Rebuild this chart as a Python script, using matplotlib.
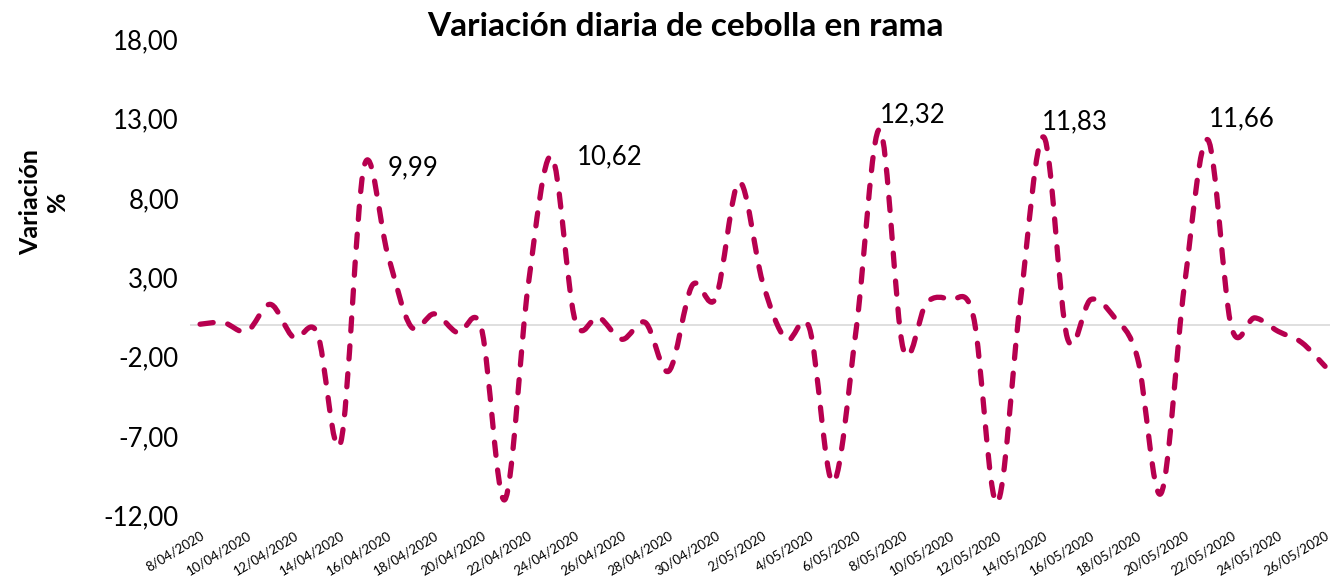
import numpy as np
import pandas as pd
import matplotlib
matplotlib.use('Agg')
import matplotlib.pyplot as plt
from matplotlib.path import Path
from matplotlib.patches import PathPatch
from matplotlib.ticker import FuncFormatter, FixedLocator

# Datos: variación diaria (%) del 8/04/2020 al 26/05/2020
fechas = pd.date_range('2020-04-08', '2020-05-26', freq='D')
etiquetas_x = [f"{d.day}/{d.month:02d}/{d.year}" for d in fechas]
variacion = [0.05, 0.15, -0.4, 1.3, -0.8, -0.5, -7.4, 9.99, 4.5, -0.1,
             0.7, -0.5, -0.2, -11.0, 2.5, 10.62, 0.3, 0.5, -0.9, 0.15,
             -2.9, 2.5, 1.7, 9.0, 2.7, -0.9, -0.2, -9.9, -0.2, 12.32,
             -1.5, 1.4, 1.6, 0.5, -11.2, 1.5, 11.83, -0.8, 1.6, 0.5,
             -2.1, -10.6, 2.5, 11.66, -0.1, 0.45, -0.4, -1.1, -2.6]
picos = [7, 15, 29, 36, 43]
ticks_y = [-12, -7, -2, 3, 8, 13, 18]

# desplazamiento de las etiquetas de los picos (puntos)
desfase = [(17, -1.3), (18, -0.4), (0, 10.3), (-1.5, 11), (0.4, 14.8)]

color_linea = '#B7004F'
plt.rcParams['font.family'] = ['Lato', 'DejaVu Sans']

fig = plt.figure(figsize=(13.3, 5.83), dpi=100)
ax = fig.add_axes([190 / 1330, 0.1156, 1140 / 1330, 0.8173])

x = np.arange(len(variacion))
y = np.array(variacion)
n = len(x)

# curva suavizada (bezier) como la de Excel
verts = [(x[0], y[0])]
codes = [Path.MOVETO]
for i in range(n - 1):
    p0 = np.array([x[max(i - 1, 0)], y[max(i - 1, 0)]])
    p1 = np.array([x[i], y[i]])
    p2 = np.array([x[i + 1], y[i + 1]])
    p3 = np.array([x[min(i + 2, n - 1)], y[min(i + 2, n - 1)]])
    c1 = p1 + (p2 - p0) / 6
    c2 = p2 - (p3 - p1) / 6
    verts += [tuple(c1), tuple(c2), tuple(p2)]
    codes += [Path.CURVE4] * 3

ax.axhline(0, color='#D9D9D9', lw=1.2, zorder=1)
curva = PathPatch(Path(verts, codes), fill=False, edgecolor=color_linea,
                  lw=3.8, linestyle=(0, (2.5, 2.8)), capstyle='round',
                  joinstyle='round', zorder=3)
ax.add_patch(curva)

for k, (dx, dy) in zip(picos, desfase):
    ax.annotate(f"{variacion[k]:.2f}".replace('.', ','), (x[k], y[k]),
                xytext=(dx, dy), textcoords='offset points',
                ha='left', va='center', fontsize=18.5, color='black')

ax.set_xlim(-0.43, 48.21)
ax.set_ylim(-12, 18)
ax.yaxis.set_major_locator(FixedLocator(ticks_y))
ax.yaxis.set_major_formatter(FuncFormatter(lambda v, p: f"{v:.2f}".replace('.', ',')))
ax.set_xticks(x[::2])
ax.set_xticklabels(etiquetas_x[::2], rotation=31, ha='right', va='top',
                   rotation_mode='anchor', fontsize=9.5)
ax.tick_params(axis='y', length=0, labelsize=18.5, pad=8)
ax.tick_params(axis='x', length=0, pad=10)
for s in ax.spines.values():
    s.set_visible(False)

fig.text(685 / 1330, 1 - 26 / 583, 'Variación diaria de cebolla en rama',
         ha='center', va='center', fontsize=24, fontweight='bold')
fig.text(44 / 1330, 1 - 202 / 583, 'Variación\n%', rotation=90,
         ha='center', va='center', multialignment='center',
         fontsize=18, fontweight='bold')

fig.savefig('out.png', dpi=100)
